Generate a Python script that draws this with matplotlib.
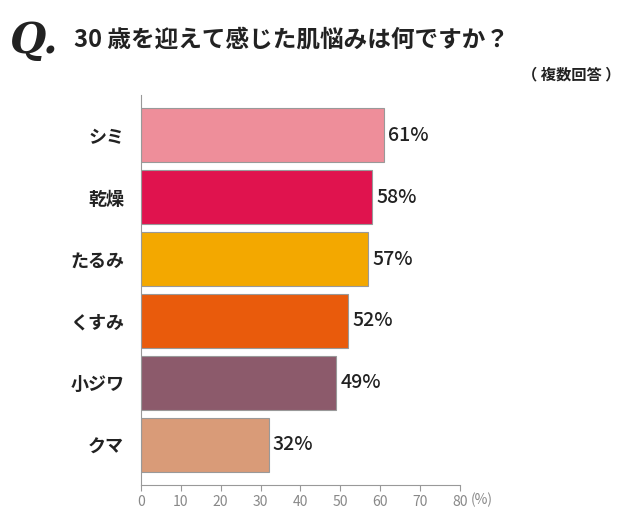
import matplotlib
matplotlib.use("Agg")
import matplotlib.pyplot as plt

categories = ["シミ", "乾燥", "たるみ", "くすみ", "小ジワ", "クマ"]
values = [61, 58, 57, 52, 49, 32]
colors = ["#EE8E9A", "#E0134E", "#F3A800", "#E95B0C", "#8C5A6B", "#D99B78"]
ticks = [0, 10, 20, 30, 40, 50, 60, 70, 80]

plt.rcParams["font.family"] = "Noto Sans CJK JP"
fig = plt.figure(figsize=(6.4, 5.17), dpi=100)
ax = fig.add_axes([0.220, 0.062, 0.499, 0.754])
y = list(range(len(categories)))
ax.barh(y, values, height=0.87, color=colors, edgecolor="#999999", linewidth=0.8)
for yi, v in zip(y, values):
    ax.text(v + 1, yi, f"{v}%", va="center", ha="left", fontsize=14,
            fontweight="medium", color="#222222")
ax.set_yticks(y)
ax.set_yticklabels(categories, fontsize=13, fontweight="bold", color="#222222")
ax.invert_yaxis()
ax.set_ylim(5.65, -0.65)
ax.set_xlim(0, 80)
ax.set_xticks(ticks)
ax.set_xticklabels([str(t) for t in ticks], fontsize=10, color="#888888")
ax.tick_params(axis="y", length=0, pad=12)
ax.tick_params(axis="x", color="#999999", length=4)
for s in ["top", "right"]:
    ax.spines[s].set_visible(False)
ax.spines["left"].set_color("#999999")
ax.spines["bottom"].set_color("#999999")
fig.text(0.752, 0.033, "(%)", fontsize=10, color="#888888", ha="center", va="center")

fig.text(0.015, 0.92, "Q.", fontsize=30, fontstyle="italic", fontweight="bold",
         family="DejaVu Serif", color="#222222", va="center")
fig.text(0.115, 0.923, "30 歳を迎えて感じた肌悩みは何ですか？", fontsize=17,
         fontweight="bold", color="#222222", va="center")
fig.text(0.97, 0.855, "（ 複数回答 ）", fontsize=11, fontweight="bold",
         color="#222222", va="center", ha="right")
fig.savefig("out.png", dpi=100)
